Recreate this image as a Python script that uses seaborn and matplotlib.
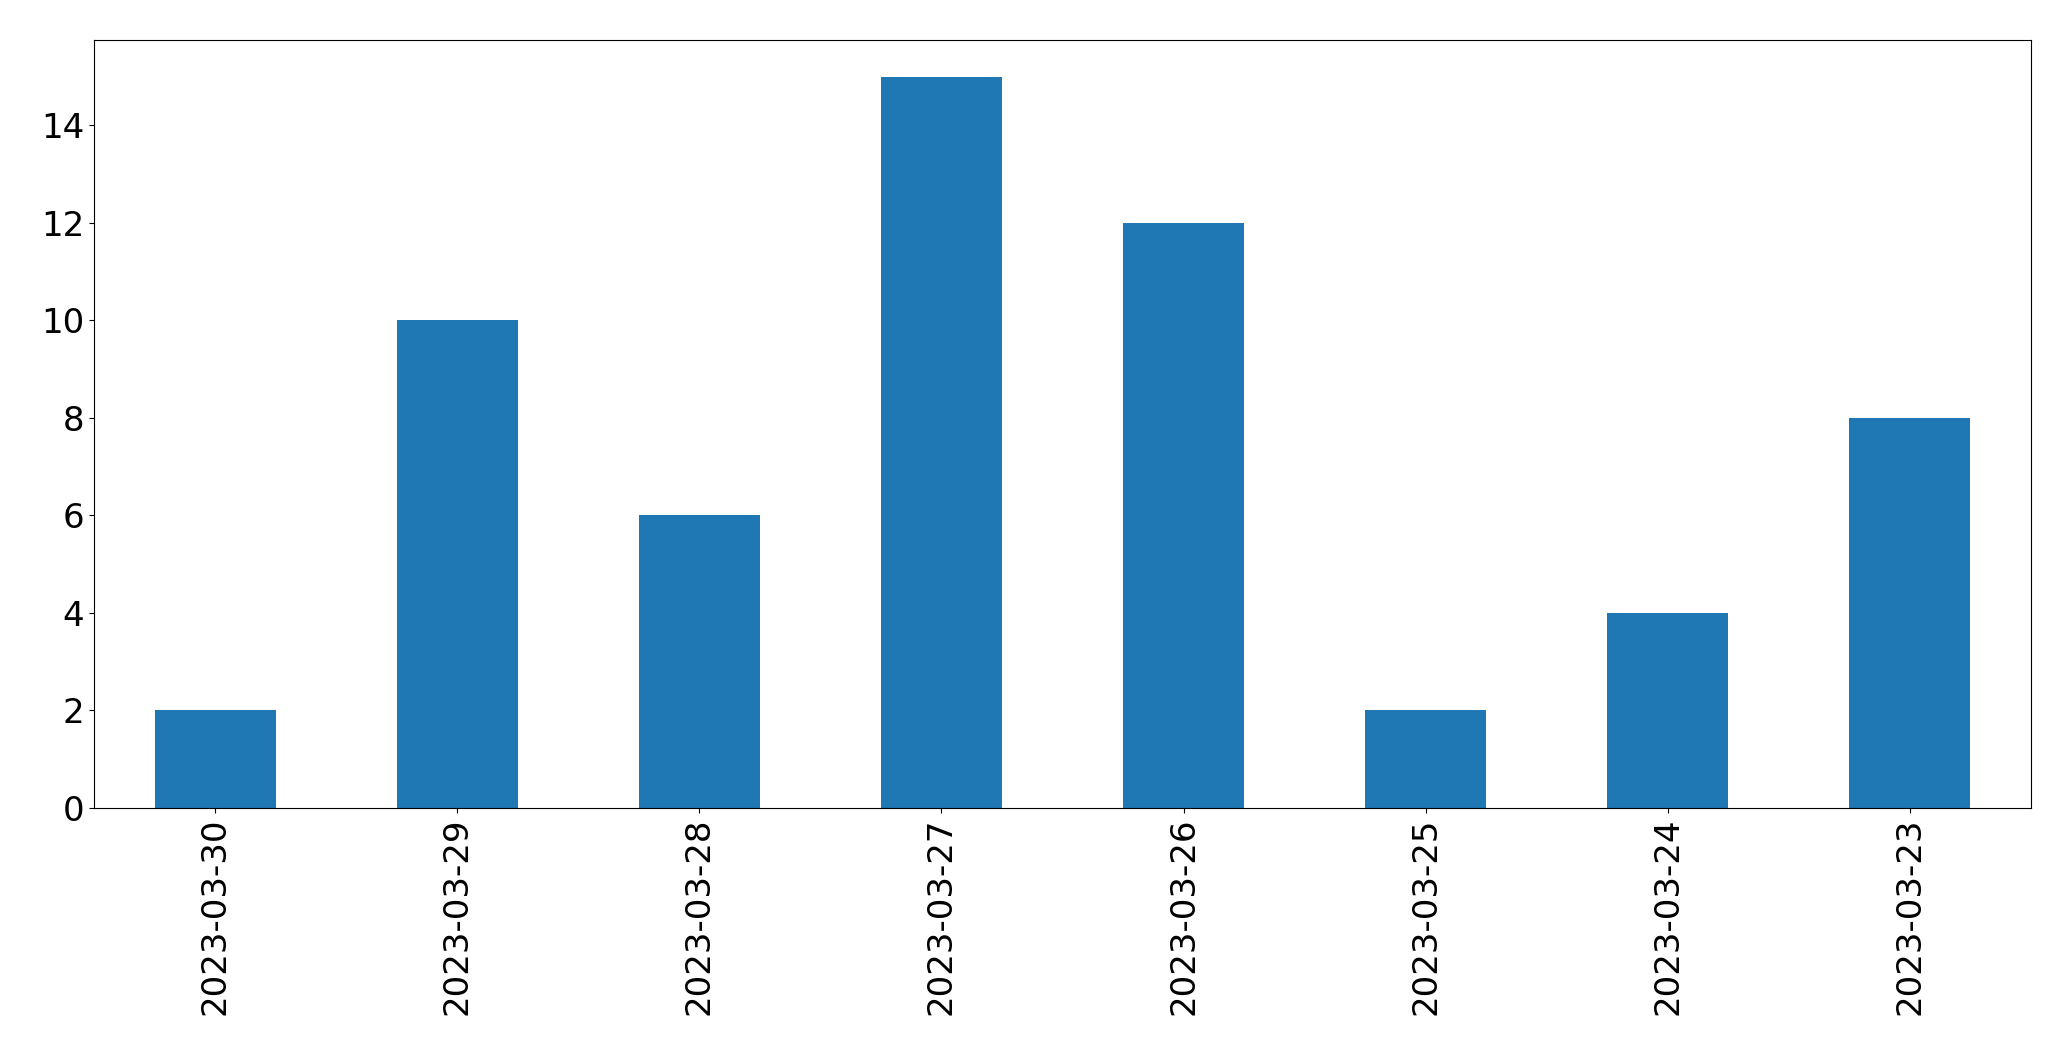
import matplotlib
matplotlib.use("Agg")
from matplotlib import pyplot as plt
import seaborn as sns
import pandas as pd

# data
dates = ["2023-03-30", "2023-03-29", "2023-03-28", "2023-03-27",
         "2023-03-26", "2023-03-25", "2023-03-24", "2023-03-23"]
counts = [2, 10, 6, 15, 12, 2, 4, 8]

df = pd.DataFrame({"date": dates, "count": counts})

fig, ax = plt.subplots(figsize=(20.71, 10.61), dpi=100)
sns.barplot(data=df, x="date", y="count", color="#1f77b4", saturation=1,
            width=0.5, linewidth=0, ax=ax)
ax.set_xlim(-0.5, len(dates) - 0.5)
ax.set_ylim(0, 15.75)
ax.set_xlabel("")
ax.set_ylabel("")
ax.tick_params(axis="both", labelsize=24.5, colors="black")
for s in ax.spines.values():
    s.set_color("black")
plt.setp(ax.get_xticklabels(), rotation=90)
fig.subplots_adjust(left=0.0454, right=0.9807, top=0.9623, bottom=0.2385)
plt.savefig("out.png", dpi=100)
